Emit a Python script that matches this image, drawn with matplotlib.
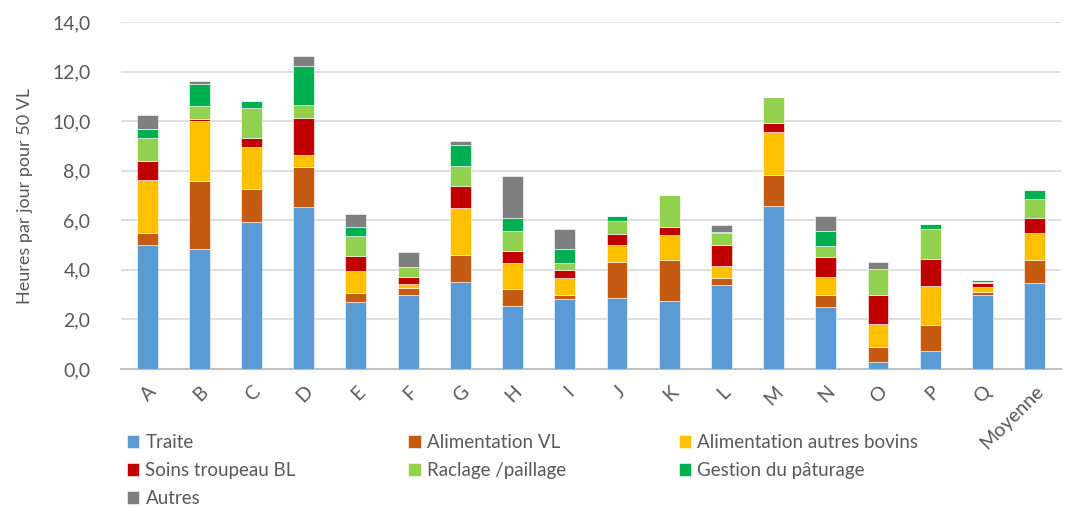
import matplotlib.pyplot as plt
import numpy as np

plt.rcParams["font.family"] = ["Lato", "DejaVu Sans"]

# Data (hours per day per 50 dairy cows)
categories = ["A", "B", "C", "D", "E", "F", "G", "H", "I", "J", "K", "L", "M", "N", "O", "P", "Q", "Moyenne"]
traite = [5.00, 4.85, 5.93, 6.55, 2.69, 2.98, 3.52, 2.54, 2.82, 2.86, 2.75, 3.40, 6.57, 2.49, 0.28, 0.74, 2.98, 3.47]
alim_vl = [0.50, 2.72, 1.34, 1.61, 0.39, 0.29, 1.09, 0.70, 0.18, 1.47, 1.63, 0.28, 1.24, 0.51, 0.62, 1.05, 0.14, 0.93]
alim_autres = [2.13, 2.42, 1.69, 0.47, 0.87, 0.17, 1.88, 1.03, 0.68, 0.66, 1.01, 0.49, 1.75, 0.72, 0.90, 1.54, 0.20, 1.08]
soins = [0.77, 0.09, 0.37, 1.48, 0.61, 0.28, 0.90, 0.50, 0.31, 0.47, 0.35, 0.82, 0.37, 0.80, 1.20, 1.12, 0.17, 0.62]
raclage = [0.93, 0.52, 1.22, 0.56, 0.82, 0.39, 0.81, 0.81, 0.30, 0.52, 1.30, 0.48, 1.05, 0.44, 1.02, 1.20, 0.04, 0.74]
paturage = [0.36, 0.88, 0.28, 1.55, 0.33, 0.00, 0.85, 0.52, 0.54, 0.18, 0.00, 0.05, 0.00, 0.62, 0.00, 0.22, 0.06, 0.39]
autres = [0.55, 0.12, 0.00, 0.40, 0.54, 0.61, 0.14, 1.67, 0.82, 0.00, 0.00, 0.31, 0.00, 0.59, 0.28, 0.00, 0.00, 0.00]

series = [
    ("Traite", traite, "#5B9BD5"),
    ("Alimentation VL", alim_vl, "#C55A11"),
    ("Alimentation autres bovins", alim_autres, "#FFC000"),
    ("Soins troupeau BL", soins, "#C00000"),
    ("Raclage /paillage", raclage, "#92D050"),
    ("Gestion du pâturage", paturage, "#00B050"),
    ("Autres", autres, "#7F7F7F"),
]

TEXT_COLOR = "#595959"

fig = plt.figure(figsize=(10.65, 5.08), dpi=100)
ax = fig.add_axes([0.1136, 0.2736, 0.8824, 0.6831])

x = np.arange(len(categories))
bottom = np.zeros(len(categories))
handles = []
for label, values, color in series:
    vals = np.array(values)
    bars = ax.bar(x, vals, width=0.4, bottom=bottom, color=color, label=label,
                  edgecolor="white", linewidth=0.4, zorder=3)
    handles.append(bars)
    bottom += vals

ax.set_ylim(0, 14)
ax.set_xlim(-0.5, len(categories) - 0.5)
yticks = np.arange(0, 14.1, 2)
ax.set_yticks(yticks)
ax.set_yticklabels([f"{v:.1f}".replace(".", ",") for v in yticks])
ax.set_xticks(x)
ax.set_xticklabels(categories, rotation=45, ha="right", va="top", rotation_mode="anchor")

ax.grid(axis="y", color="#D9D9D9", linewidth=1.2, zorder=0)
for side in ["top", "right", "left"]:
    ax.spines[side].set_visible(False)
ax.spines["bottom"].set_color("#BFBFBF")
ax.spines["bottom"].set_linewidth(1.5)
ax.tick_params(axis="both", length=0, colors=TEXT_COLOR, labelsize=14)
ax.tick_params(axis="y", pad=22)
ax.tick_params(axis="x", pad=10)

ax.set_ylabel("Heures par jour pour 50 VL", color=TEXT_COLOR, fontsize=13, labelpad=14)

# Legend filled row-wise like the reference
order = [0, 3, 6, 1, 4, 2, 5]
fig.legend([handles[i] for i in order], [series[i][0] for i in order],
           loc="upper left", bbox_to_anchor=(0.119, 0.146), ncol=3, frameon=False,
           fontsize=13.5, labelcolor=TEXT_COLOR, handlelength=0.65, handleheight=0.65,
           handletextpad=0.35, columnspacing=6.0, labelspacing=0.6, borderpad=0, borderaxespad=0)

fig.savefig("out.png", dpi=100)
